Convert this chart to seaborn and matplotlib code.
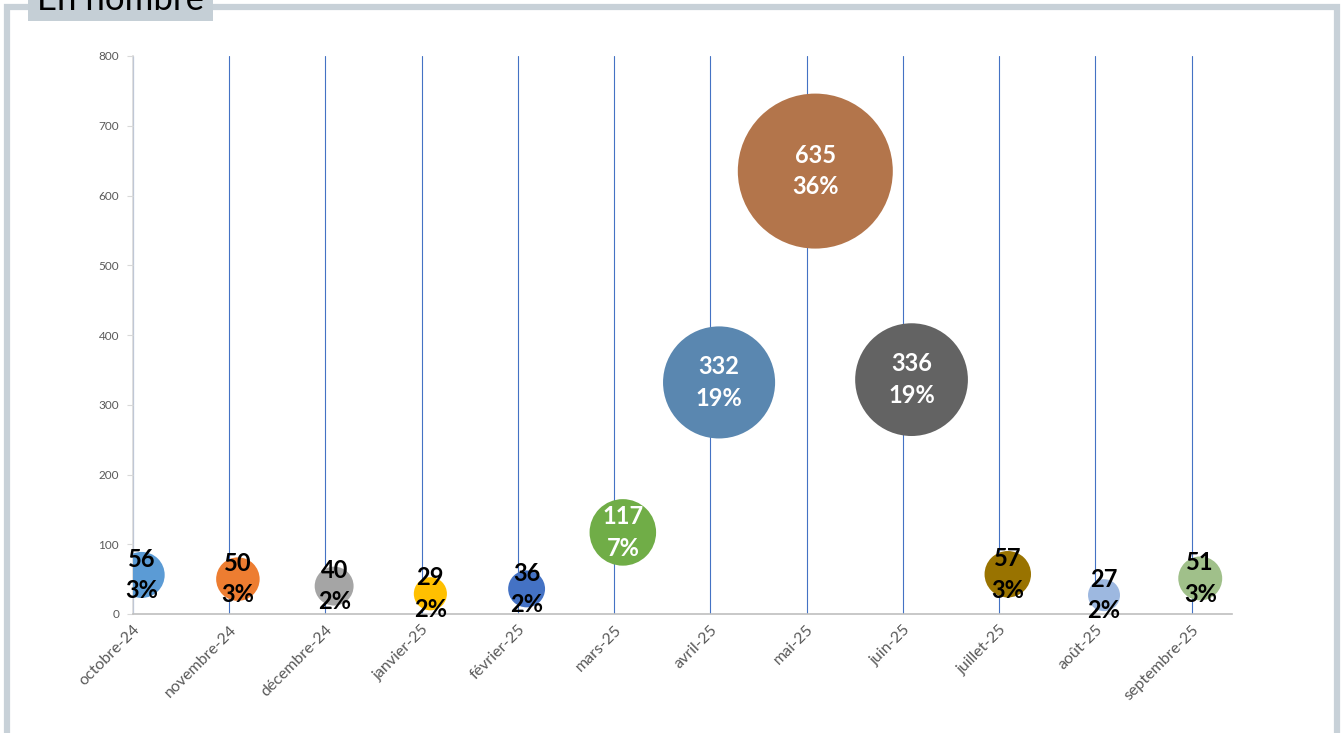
import seaborn as sns
import matplotlib.pyplot as plt
import pandas as pd
from matplotlib.patches import Rectangle

months = ['octobre-24', 'novembre-24', 'décembre-24', 'janvier-25', 'février-25', 'mars-25',
          'avril-25', 'mai-25', 'juin-25', 'juillet-25', 'août-25', 'septembre-25']
counts = [56, 50, 40, 29, 36, 117, 332, 635, 336, 57, 27, 51]
colors = ['#5B9BD5', '#ED7D31', '#A5A5A5', '#FFC000', '#4472C4', '#70AD47',
          '#5A87B0', '#B3754B', '#636363', '#997300', '#9DB8E0', '#A0C08A']
white_labels = ['mars-25', 'avril-25', 'mai-25', 'juin-25']

df = pd.DataFrame({'mois': months, 'nombre': counts})
df['pos'] = range(len(months))
df['pct'] = df['nombre'] / df['nombre'].sum() * 100

sns.set_style('white')
plt.rcParams['font.family'] = ['Lato', 'DejaVu Sans']

fig = plt.figure(figsize=(13.44, 7.33), dpi=100)
ax = fig.add_axes([133 / 1344, 1 - 614 / 733, (1232 - 133) / 1344, (614 - 56) / 733])

# bubble area proportional to value (like Excel)
max_s = 155 * 0.72
sns.scatterplot(data=df, x=df['pos'] + 0.09, y='nombre', hue='mois', palette=colors,
                size='nombre', sizes=(0, max_s ** 2), size_norm=(0, max(counts)),
                edgecolor='none', alpha=1, legend=False, ax=ax, zorder=3)

for _, r in df.iterrows():
    c = 'white' if r['mois'] in white_labels else 'black'
    ax.text(r['pos'] + 0.09, r['nombre'], f"{r['nombre']}\n{r['pct']:.0f}%",
            ha='center', va='center', fontsize=17, fontweight='bold', color=c,
            linespacing=1.45, zorder=4)

ax.set_xlim(0, 11.42)
ax.set_ylim(0, 800)
ax.set_xticks(range(len(months)))
ax.set_xticklabels(months, rotation=45, ha='right', rotation_mode='anchor',
                   fontsize=11.5, color='#595959')
ax.set_yticks(range(0, 801, 100))
ax.tick_params(axis='y', labelsize=8.5, colors='#595959', length=4, width=0.8,
               left=True, pad=6)
ax.tick_params(axis='y', color='#D9D9D9')
ax.tick_params(axis='x', length=0, pad=6)
ax.grid(axis='x', color='#4472C4', linewidth=0.8)
ax.set_axisbelow(True)
ax.set_xlabel('')
ax.set_ylabel('')
for side in ['top', 'right']:
    ax.spines[side].set_visible(False)
ax.spines['left'].set_color('#D9D9D9')
ax.spines['bottom'].set_color('#BFBFBF')
ax.spines['left'].set_linewidth(1.2)
ax.spines['bottom'].set_linewidth(1.2)

# frame and title tab
fig.patches.append(Rectangle((7 / 1344, -0.05), 1330 / 1344, 1 - 7 / 733 + 0.05,
                             transform=fig.transFigure, fill=False,
                             edgecolor='#C8D1D8', linewidth=4.5))
fig.patches.append(Rectangle((28 / 1344, 1 - 21 / 733), 185 / 1344, 21 / 733 + 0.01,
                             transform=fig.transFigure, facecolor='#C5CFD6',
                             edgecolor='none'))
fig.text(37 / 1344, 1 - 10 / 733, 'En nombre', fontsize=25, color='black',
         ha='left', va='baseline')

fig.savefig('out.png', dpi=100)
